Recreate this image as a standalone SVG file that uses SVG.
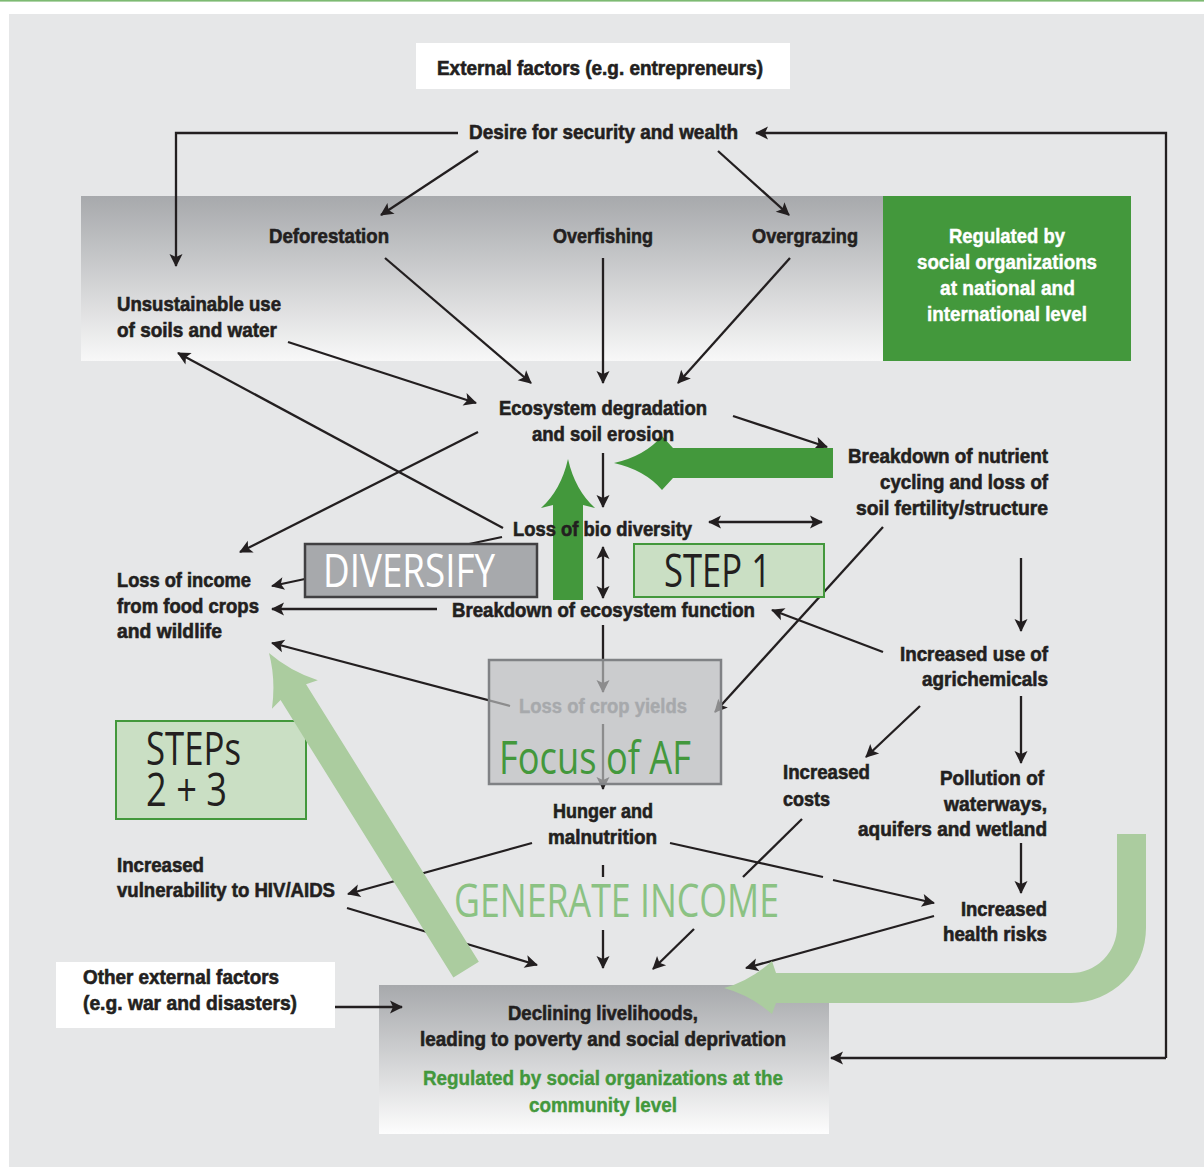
<svg xmlns="http://www.w3.org/2000/svg" width="1204" height="1167" viewBox="0 0 1204 1167">
<defs>
<linearGradient id="gband" x1="0" y1="0" x2="0" y2="1"><stop offset="0" stop-color="#a7a9ac"/><stop offset="1" stop-color="#f8f8f8"/></linearGradient>
<linearGradient id="gbox" x1="0" y1="0" x2="0" y2="1"><stop offset="0" stop-color="#a7a9ac"/><stop offset="1" stop-color="#fdfdfd"/></linearGradient>
<marker id="ah" viewBox="-14 -8 16 16" markerWidth="16" markerHeight="16" refX="0" refY="0" orient="auto-start-reverse" markerUnits="userSpaceOnUse"><path d="M1,0 L-12,-6.5 L-9,0 L-12,6.5 Z" fill="#231f20"/></marker>
</defs>
<style>
.t{font-family:"Liberation Sans",Arial,sans-serif;font-weight:bold;font-size:20px;fill:#231f20;stroke:#231f20;stroke-width:0.6}
.w{fill:#ffffff;stroke:#ffffff;stroke-width:0.4}
.gt{fill:#43983c;stroke:#43983c;stroke-width:0.4}
.gr{fill:#a7a9ac;stroke:#a7a9ac;stroke-width:0.4}
.big{font-family:"Open Sans","Noto Sans",sans-serif;font-size:45px;font-weight:400;stroke:none}
.c{fill:none;stroke:#231f20;stroke-width:2.3}
.a{marker-end:url(#ah)}
.d{marker-start:url(#ah);marker-end:url(#ah)}
</style>
<rect x="0" y="0" width="1204" height="1167" fill="#ffffff"/>
<rect x="0" y="0" width="1204" height="1.6" fill="#7dba72"/>
<rect x="9" y="14" width="1195" height="1153" fill="#e6e7e8"/>

<g id="band"><rect x="81" y="196" width="802" height="165" fill="url(#gband)"/></g>
<g id="national"><rect x="883" y="196" width="248" height="165" fill="#43983c"/>
<text class="t w" x="949" y="243" textLength="116" lengthAdjust="spacingAndGlyphs">Regulated by</text>
<text class="t w" x="917" y="269" textLength="180" lengthAdjust="spacingAndGlyphs">social organizations</text>
<text class="t w" x="940" y="295" textLength="135" lengthAdjust="spacingAndGlyphs">at national and</text>
<text class="t w" x="927" y="321" textLength="160" lengthAdjust="spacingAndGlyphs">international level</text>
</g>
<g id="external"><rect x="416" y="43" width="374" height="46" fill="#ffffff"/></g>
<g id="other-external"><rect x="56" y="962" width="279" height="66" fill="#ffffff"/></g>
<g id="declining"><rect x="379" y="985" width="450" height="149" fill="url(#gbox)"/></g>

<g id="connectors">
<path class="c a" d="M458,133 H176 V266"/>
<path class="c a" d="M1166,1058 V133 H756"/>
<path class="c a" d="M1166,1058 H831"/>
<path class="c a" d="M478,151 L381,215"/>
<path class="c a" d="M718,151 L789,215"/>
<path class="c a" d="M385,258 L531,383"/>
<path class="c a" d="M603,258 V383"/>
<path class="c a" d="M790,258 L678,383"/>
<path class="c a" d="M288,342 L476,403"/>
<path class="c a" d="M503,528 L178,353"/>
<path class="c a" d="M478,432 L240,552"/>
<path class="c a" d="M733,416 L827,447"/>
<path class="c a" d="M603,453 V507"/>
<path class="c d" d="M709,522 H822"/>
<path class="c d" d="M603,547 V598"/>
<path class="c a" d="M502,537 L272,586"/>
<path class="c a" d="M437,609 H272"/>
<path class="c a" d="M603,625 V692"/>
<path class="c a" d="M603,724 V789"/>
<path class="c a" d="M510,706 L272,643"/>
<path class="c a" d="M883,527 L715,712"/>
<path class="c a" d="M1021,558 V631"/>
<path class="c a" d="M883,652 L772,610"/>
<path class="c a" d="M920,706 L866,757"/>
<path class="c a" d="M1021,696 V763"/>
<path class="c a" d="M1021,843 V893"/>
<path class="c" d="M670,843 L823,877"/>
<path class="c a" d="M833,880 L934,903"/>
<path class="c" d="M802,819 L743,877"/>
<path class="c a" d="M694,929 L653,969"/>
<path class="c" d="M603,865 V877"/>
<path class="c a" d="M603,930 V968"/>
<path class="c a" d="M532,843 L348,894"/>
<path class="c a" d="M347,908 L537,965"/>
<path class="c a" d="M934,916 L746,968"/>
<path class="c a" d="M335,1007 H402"/>
</g>

<g id="diversify"><rect x="305" y="544" width="232" height="53" fill="#a7a9ac" stroke="#414042" stroke-width="2.5"/>
<text class="big" fill="#ffffff" x="323" y="587" textLength="172" lengthAdjust="spacingAndGlyphs">DIVERSIFY</text></g>
<g id="step1"><rect x="634" y="544" width="190" height="53" fill="#cadfc4" stroke="#43983c" stroke-width="2"/>
<text class="big" fill="#231f20" x="664" y="587" textLength="107" lengthAdjust="spacingAndGlyphs">STEP 1</text></g>
<g id="steps23"><rect x="116" y="721" width="190" height="98" fill="#cadfc4" stroke="#43983c" stroke-width="2"/>
<text class="big" fill="#231f20" font-size="42"><tspan x="146" y="765" textLength="95" lengthAdjust="spacingAndGlyphs">STEPs</tspan><tspan x="146" y="806" textLength="81" lengthAdjust="spacingAndGlyphs">2 + 3</tspan></text></g>

<g id="green-arrows">
<path d="M614,463 Q645,456 662,436 L673,448 L833,448 L833,478 L673,478 L662,490 Q645,470 614,463 Z" fill="#43983c"/>
<path d="M568,459 Q575,490 595,508 L583,505 L583,600 L553,600 L553,505 L541,508 Q561,490 568,459 Z" fill="#43983c"/>
<path transform="translate(269,653) rotate(238.1)" d="M0,0 Q-26,-8 -49,-27 L-46,-15 L-373,-15 L-373,15 L-46,15 L-49,27 Q-26,8 0,0 Z" fill="#abcc9f"/>
<path d="M1117,834 L1146,834 L1146,928 A75,75 0 0 1 1071,1003 L776,1003 L772,1014 Q750,995 724,988 Q750,981 772,961 L776,973 L1071,973 A46,46 0 0 0 1117,927 Z" fill="#abcc9f"/>
</g>

<g id="focus"><rect x="489" y="660" width="232" height="124" fill="#bebfc1" fill-opacity="0.68" stroke="#808285" stroke-width="2.5"/>
<text class="t gr" x="519" y="713" textLength="168" lengthAdjust="spacingAndGlyphs">Loss of crop yields</text>
<text class="big" fill="#43983c" x="499" y="774" font-size="47" textLength="192" lengthAdjust="spacingAndGlyphs">Focus of AF</text></g>

<g id="generate"><text class="big" fill="#8bc283" x="454" y="917" textLength="325" lengthAdjust="spacingAndGlyphs">GENERATE INCOME</text></g>

<g id="labels">
<text class="t" x="437" y="75" textLength="326" lengthAdjust="spacingAndGlyphs">External factors (e.g. entrepreneurs)</text>
<text class="t" x="469" y="139" textLength="269" lengthAdjust="spacingAndGlyphs">Desire for security and wealth</text>
<text class="t" x="269" y="243" textLength="120" lengthAdjust="spacingAndGlyphs">Deforestation</text>
<text class="t" x="553" y="243" textLength="100" lengthAdjust="spacingAndGlyphs">Overfishing</text>
<text class="t" x="752" y="243" textLength="106" lengthAdjust="spacingAndGlyphs">Overgrazing</text>
<text class="t" x="117" y="311" textLength="164" lengthAdjust="spacingAndGlyphs">Unsustainable use</text>
<text class="t" x="117" y="337" textLength="160" lengthAdjust="spacingAndGlyphs">of soils and water</text>
<text class="t" x="499" y="415" textLength="208" lengthAdjust="spacingAndGlyphs">Ecosystem degradation</text>
<text class="t" x="532" y="441" textLength="142" lengthAdjust="spacingAndGlyphs">and soil erosion</text>
<text class="t" x="848" y="463" textLength="200" lengthAdjust="spacingAndGlyphs">Breakdown of nutrient</text>
<text class="t" x="880" y="489" textLength="168" lengthAdjust="spacingAndGlyphs">cycling and loss of</text>
<text class="t" x="856" y="515" textLength="192" lengthAdjust="spacingAndGlyphs">soil fertility/structure</text>
<text class="t" x="513" y="536" textLength="179" lengthAdjust="spacingAndGlyphs">Loss of bio diversity</text>
<text class="t" x="117" y="587" textLength="134" lengthAdjust="spacingAndGlyphs">Loss of income</text>
<text class="t" x="117" y="613" textLength="142" lengthAdjust="spacingAndGlyphs">from food crops</text>
<text class="t" x="117" y="638" textLength="105" lengthAdjust="spacingAndGlyphs">and wildlife</text>
<text class="t" x="452" y="617" textLength="303" lengthAdjust="spacingAndGlyphs">Breakdown of ecosystem function</text>
<text class="t" x="900" y="661" textLength="148" lengthAdjust="spacingAndGlyphs">Increased use of</text>
<text class="t" x="922" y="686" textLength="126" lengthAdjust="spacingAndGlyphs">agrichemicals</text>
<text class="t" x="553" y="818" textLength="100" lengthAdjust="spacingAndGlyphs">Hunger and</text>
<text class="t" x="548" y="844" textLength="109" lengthAdjust="spacingAndGlyphs">malnutrition</text>
<text class="t" x="783" y="779" textLength="87" lengthAdjust="spacingAndGlyphs">Increased</text>
<text class="t" x="783" y="806" textLength="47" lengthAdjust="spacingAndGlyphs">costs</text>
<text class="t" x="940" y="785" textLength="104" lengthAdjust="spacingAndGlyphs">Pollution of</text>
<text class="t" x="944" y="811" textLength="103" lengthAdjust="spacingAndGlyphs">waterways,</text>
<text class="t" x="858" y="836" textLength="189" lengthAdjust="spacingAndGlyphs">aquifers and wetland</text>
<text class="t" x="961" y="916" textLength="86" lengthAdjust="spacingAndGlyphs">Increased</text>
<text class="t" x="943" y="941" textLength="104" lengthAdjust="spacingAndGlyphs">health risks</text>
<text class="t" x="117" y="872" textLength="87" lengthAdjust="spacingAndGlyphs">Increased</text>
<text class="t" x="117" y="897" textLength="218" lengthAdjust="spacingAndGlyphs">vulnerability to HIV/AIDS</text>
<text class="t" x="83" y="984" textLength="196" lengthAdjust="spacingAndGlyphs">Other external factors</text>
<text class="t" x="83" y="1010" textLength="214" lengthAdjust="spacingAndGlyphs">(e.g. war and disasters)</text>
<text class="t" x="508" y="1020" textLength="190" lengthAdjust="spacingAndGlyphs">Declining livelihoods,</text>
<text class="t" x="420" y="1046" textLength="366" lengthAdjust="spacingAndGlyphs">leading to poverty and social deprivation</text>
<text class="t gt" x="423" y="1085" textLength="360" lengthAdjust="spacingAndGlyphs">Regulated by social organizations at the</text>
<text class="t gt" x="529" y="1112" textLength="148" lengthAdjust="spacingAndGlyphs">community level</text>
</g>
</svg>
